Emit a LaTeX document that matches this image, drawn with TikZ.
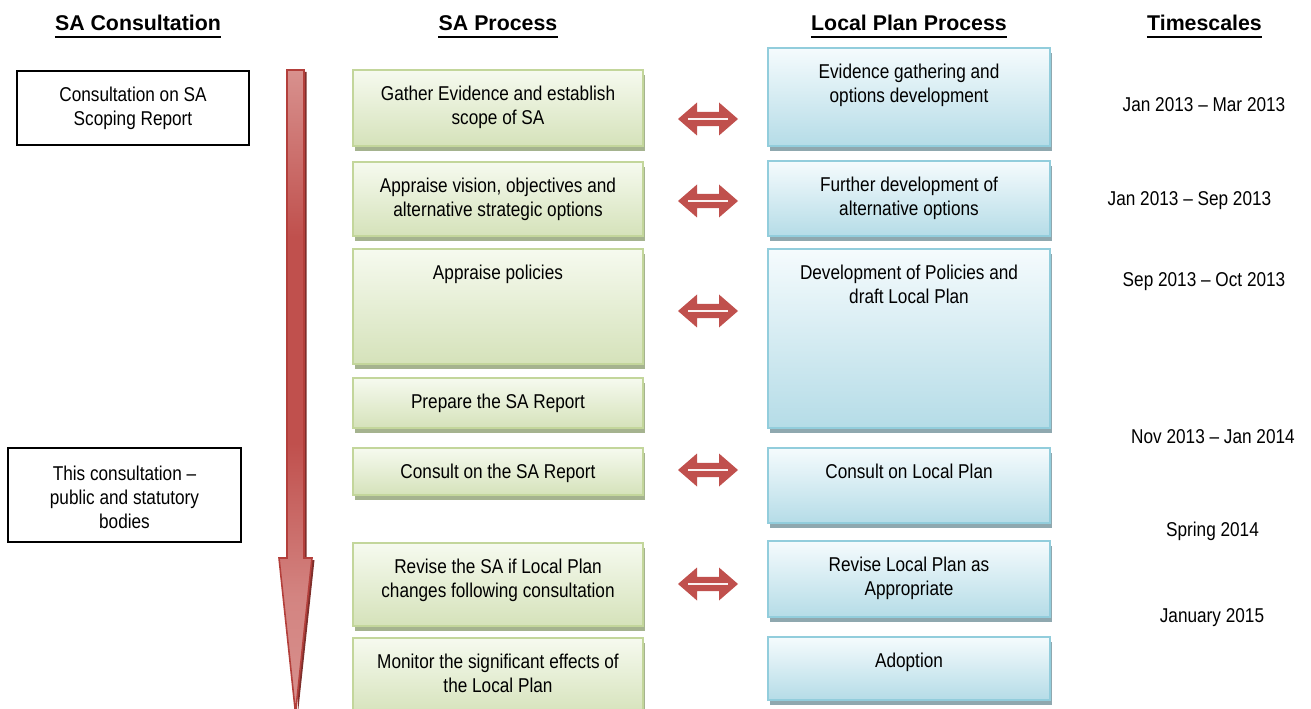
\documentclass[tikz,border=0pt]{standalone}
\usepackage{fontspec}
\setmainfont{Liberation Sans}
\newfontfamily\narrowfont{Liberation Sans}[FakeStretch=0.86,Ligatures=TeX]
\usetikzlibrary{fit,shadows}

\definecolor{gtop}{HTML}{F6FAEF}
\definecolor{gbot}{HTML}{D5E2BA}
\definecolor{gline}{HTML}{C3D69B}
\definecolor{gshadow}{HTML}{A5B38F}
\definecolor{btop}{HTML}{F5FBFD}
\definecolor{bbot}{HTML}{B5DCE7}
\definecolor{bline}{HTML}{92CDDC}
\definecolor{bshadow}{HTML}{8FA8AF}
\definecolor{arrred}{HTML}{C0504D}
\definecolor{arrlight}{HTML}{D8918E}
\definecolor{arredge}{HTML}{B33F3B}
\definecolor{arrshadow}{HTML}{7E2E2B}

% red shading of the long arrow: light at both ends, full red in between
\pgfdeclareverticalshading{redbar}{100bp}{%
  color(0bp)=(arrlight); color(25bp)=(arrlight); color(34bp)=(arrlight!80!arrred);
  color(46bp)=(arrred); color(62bp)=(arrred); color(75bp)=(arrlight); color(100bp)=(arrlight)}

\tikzset{
  txt/.style={font=\narrowfont\fontsize{15}{18}\selectfont, align=center, inner sep=0pt},
  hdr/.style={font=\bfseries\fontsize{16}{18}\selectfont, inner sep=0pt, anchor=base},
  hdrline/.style={line width=1.9pt},
  gbox/.style={rectangle, inner sep=0pt, draw=gline, line width=1.6pt,
    top color=gtop, bottom color=gbot,
    general shadow={fill=gshadow, shadow xshift=1.6pt, shadow yshift=-3.6pt}},
  bbox/.style={rectangle, inner sep=0pt, draw=bline, line width=1.6pt,
    top color=btop, bottom color=bbot,
    general shadow={fill=bshadow, shadow xshift=1.6pt, shadow yshift=-3.6pt}},
  cbox/.style={rectangle, inner sep=0pt, draw=black, line width=1.1pt},
  intxt/.style={txt, anchor=north, yshift=-12.3pt},
  when/.style={txt, anchor=base},
  dblarrow/.pic={
    \fill[arrred] (-30,0) -- (-11,-16.5) -- (-11,-7.2) -- (11,-7.2) -- (11,-16.5)
      -- (30,0) -- (11,16.5) -- (11,7.2) -- (-11,7.2) -- (-11,16.5) -- cycle;
    \draw[white!92!arrred, line width=1.9pt] (-20,0) -- (20,0);
  }
}

\begin{document}
\begin{tikzpicture}[x=0.75pt,y=-0.75pt]
\useasboundingbox (0,0) rectangle (1311,709);

% column headings
\node[hdr] (h1) at (138,31) {SA Consultation};
\node[hdr] (h2) at (498,31) {SA Process};
\node[hdr] (h3) at (909,31) {Local Plan Process};
\node[hdr] (h4) at (1204.5,31) {Timescales};
\foreach \h in {h1,h2,h3,h4}
  \draw[hdrline] ([yshift=-4.5pt]\h.base west) -- ([yshift=-4.5pt]\h.base east);

% long downward arrow of the SA process
\fill[arrshadow] (289.5,72) -- (306.5,72) -- (306.5,560) -- (314.5,560) -- (298,713) -- cycle;
\path[draw=arredge, line width=1.2pt, shading=redbar, shading angle=0]
  (287,70) -- (304,70) -- (304,558) -- (312,558) -- (295.5,713) -- (279,558) -- (287,558) -- cycle;

% consultation boxes
\node[cbox, fit={(17,71) (249,145)}] (c1) {};
\node[txt, anchor=north] (c1t) at (133,86.4) {Consultation on SA\\Scoping Report};
\node[cbox, fit={(8,448) (241,542)}] (c2) {};
\node[txt, anchor=north] (c2t) at (124.5,465.4) {This consultation –\\public and statutory\\bodies};

% SA process boxes
\node[gbox, fit={(353,70) (643,146)}] (g1) {};
\node[gbox, fit={(353,162) (643,236)}] (g2) {};
\node[gbox, fit={(353,249) (643,364)}] (g3) {};
\node[gbox, fit={(353,378) (643,428)}] (g4) {};
\node[gbox, fit={(353,448) (643,495)}] (g5) {};
\node[gbox, fit={(353,543) (643,626)}] (g6) {};
\node[gbox, fit={(353,638) (643,716)}] (g7) {};

\node[intxt] (g1t) at (g1.north) {Gather Evidence and establish\\scope of SA};
\node[intxt] (g2t) at (g2.north) {Appraise vision, objectives and\\alternative strategic options};
\node[intxt] (g3t) at (g3.north) {Appraise policies};
\node[intxt] (g4t) at (g4.north) {Prepare the SA Report};
\node[intxt] (g5t) at (g5.north) {Consult on the SA Report};
\node[intxt] (g6t) at (g6.north) {Revise the SA if Local Plan\\changes following consultation};
\node[intxt] (g7t) at (g7.north) {Monitor the significant effects of\\the Local Plan};

% Local Plan process boxes
\node[bbox, fit={(768,48) (1050,146)}] (b1) {};
\node[bbox, fit={(768,161) (1050,236)}] (b2) {};
\node[bbox, fit={(768,249) (1050,428)}] (b3) {};
\node[bbox, fit={(768,448) (1050,523)}] (b4) {};
\node[bbox, fit={(768,541) (1050,617)}] (b5) {};
\node[bbox, fit={(768,637) (1050,700)}] (b6) {};

\node[intxt] (b1t) at (b1.north) {Evidence gathering and\\options development};
\node[intxt] (b2t) at (b2.north) {Further development of\\alternative options};
\node[intxt] (b3t) at (b3.north) {Development of Policies and\\draft Local Plan};
\node[intxt] (b4t) at (b4.north) {Consult on Local Plan};
\node[intxt] (b5t) at (b5.north) {Revise Local Plan as\\Appropriate};
\node[intxt] (b6t) at (b6.north) {Adoption};

% two-way links between the processes
\foreach \y in {119,201,311,470,584}
  \pic at (708,\y) {dblarrow};

% timescales
\node[when] (t1) at (1204,111.3) {Jan 2013 – Mar 2013};
\node[when] (t2) at (1189.5,205.3) {Jan 2013 – Sep 2013};
\node[when] (t3) at (1204,286.3) {Sep 2013 – Oct 2013};
\node[when] (t4) at (1213,444) {Nov 2013 – Jan 2014};
\node[when] (t5) at (1212.5,536.3) {Spring 2014};
\node[when] (t6) at (1212,622.3) {January 2015};
\end{tikzpicture}
\end{document}
